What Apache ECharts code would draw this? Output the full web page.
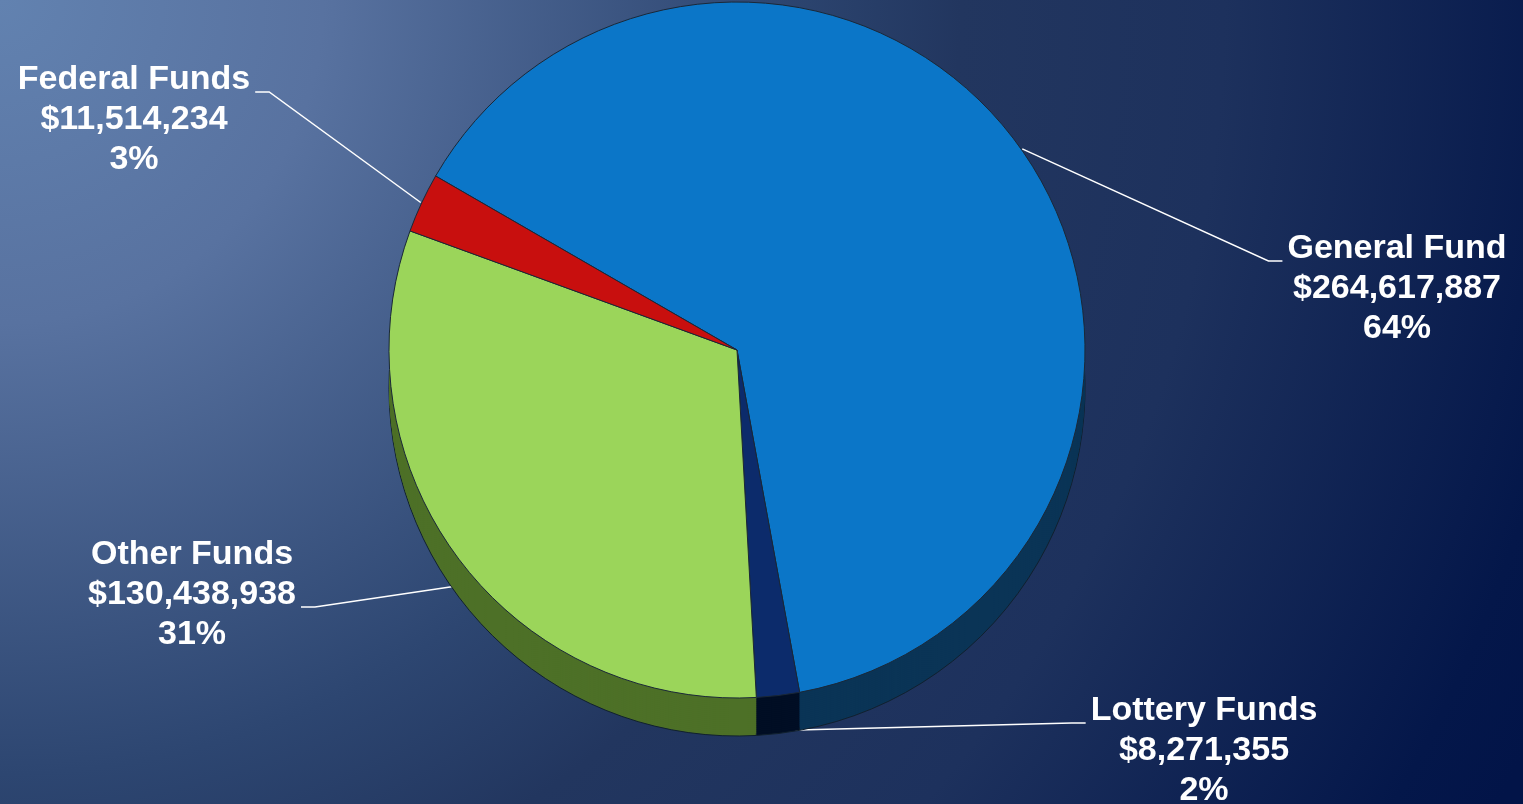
<!DOCTYPE html>
<html>
<head>
<meta charset="utf-8">
<script src="https://cdn.jsdelivr.net/npm/echarts@6/dist/echarts.min.js"></script>
<style>
  html, body { margin: 0; padding: 0; }
  #chart { width: 1523px; height: 804px; }
</style>
</head>
<body>
<div id="chart"></div>
<script>
// data, clockwise from the upper-left edge
const categories = ['General Fund', 'Lottery Funds', 'Other Funds', 'Federal Funds']
const amounts = [264617887, 8271355, 130438938, 11514234]

// colours of the top face and of the side wall
const topColors = ['#0b76c8', '#0c2b6b', '#9bd55a', '#c80f0e']
const sideColors = ['#0a3456', '#010e24', '#4d7027', '#6e0a08']

// where each label sits; drop moves the leader start down onto the side wall
const labelSpots = [
  { x: 1397, y: 289, side: 'left', line: 0, drop: 0 },
  { x: 1204, y: 751, side: 'left', line: 0, drop: 34 },
  { x: 192, y: 595, side: 'right', line: 1, drop: 28 },
  { x: 134, y: 120, side: 'right', line: 0, drop: 0 }
]

const pieCenter = [737, 350]
const pieRadius = 348
const depth = 38
const startAngle = 150

const total = amounts.reduce((a, b) => a + b, 0)

// mid angle of each slice, for the leader lines
const midAngles = []
let acc = 0
amounts.forEach(v => {
  midAngles.push(startAngle - 360 * (acc + v / 2) / total)
  acc += v
})

const chart = echarts.init(document.getElementById('chart'))

const baseData = (colors) => categories.map((name, i) => ({
  name,
  value: amounts[i],
  itemStyle: { color: colors[i] }
}))

const series = []

// side wall: stacked copies shifted down
for (let off = depth; off > 0; off -= 2) {
  series.push({
    type: 'pie',
    silent: true,
    animation: false,
    center: [pieCenter[0], pieCenter[1] + off],
    radius: pieRadius,
    startAngle,
    clockwise: true,
    label: { show: false },
    labelLine: { show: false },
    itemStyle: {
      borderColor: off === depth ? '#10202e' : 'transparent',
      borderWidth: off === depth ? 1 : 0
    },
    emphasis: { disabled: true },
    data: baseData(sideColors)
  })
}

// top face with labels
series.push({
  type: 'pie',
  animation: false,
  center: pieCenter,
  radius: pieRadius,
  startAngle,
  clockwise: true,
  percentPrecision: 0,
  avoidLabelOverlap: false,
  itemStyle: { borderColor: '#1a2838', borderWidth: 1 },
  emphasis: { disabled: true },
  label: {
    show: true,
    position: 'outside',
    color: '#ffffff',
    fontFamily: 'Liberation Sans, Arial, sans-serif',
    fontWeight: 'bold',
    fontSize: 34,
    lineHeight: 40,
    align: 'center',
    formatter: (p) => `${p.name}\n$${p.value.toLocaleString('en-US')}\n${p.percent}%`
  },
  labelLine: {
    show: true,
    smooth: false,
    lineStyle: { color: '#ffffff', width: 1.5 }
  },
  labelLayout: (params) => {
    const i = params.dataIndex
    const s = labelSpots[i]
    const w = params.labelRect.width
    const h = params.labelRect.height
    const by = s.y - h / 2 + s.line * 40 + 32
    const ex = s.side === 'right' ? s.x + w / 2 + 5 : s.x - w / 2 - 5
    const kx = s.side === 'right' ? ex + 14 : ex - 14
    const a = midAngles[i] * Math.PI / 180
    const start = [
      pieCenter[0] + (pieRadius + 1) * Math.cos(a),
      pieCenter[1] - (pieRadius + 1) * Math.sin(a) + s.drop
    ]
    return {
      x: s.x,
      y: s.y,
      align: 'center',
      verticalAlign: 'middle',
      labelLinePoints: [start, [kx, by], [ex, by]]
    }
  },
  data: baseData(topColors)
})

chart.setOption({
  animation: false,
  backgroundColor: new echarts.graphic.RadialGradient(0, 0, 1700, [
    { offset: 0, color: '#6282b0' },
    { offset: 0.19, color: '#5872a0' },
    { offset: 0.455, color: '#2d4671' },
    { offset: 0.565, color: '#22365f' },
    { offset: 0.72, color: '#1d315d' },
    { offset: 0.946, color: '#04174a' },
    { offset: 1, color: '#021448' }
  ], true),
  series
})
</script>
</body>
</html>
